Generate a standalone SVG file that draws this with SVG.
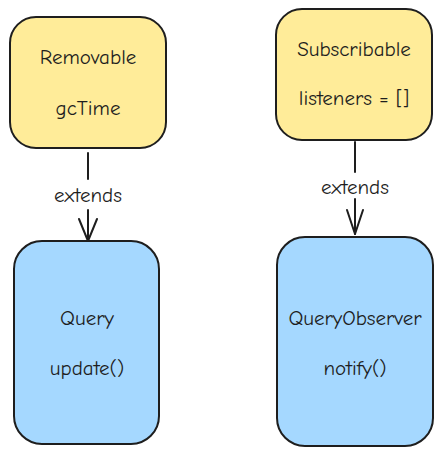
<svg xmlns="http://www.w3.org/2000/svg" width="443" height="456" viewBox="0 0 443 456">
<style>
.box{stroke:#1e1e1e;stroke-width:2;}
.y{fill:#ffec99;}
.b{fill:#a5d8ff;}
text{font-family:"Comic Neue","Liberation Sans",sans-serif;font-size:21px;fill:#1e1e1e;text-anchor:middle;dominant-baseline:central;}
.edge{stroke:#1e1e1e;stroke-width:2;fill:none;stroke-linecap:round;stroke-linejoin:round;}
</style>
<rect width="443" height="456" fill="#ffffff"/>
<g id="removable">
<rect class="box y" x="10" y="17" width="156" height="131" rx="26"/>
<text x="88" y="57">Removable</text>
<text x="88" y="108">gcTime</text>
</g>
<g id="subscribable">
<rect class="box y" x="276" y="9" width="156" height="131" rx="26"/>
<text x="354" y="49">Subscribable</text>
<text x="354" y="98">listeners = []</text>
</g>
<g id="query">
<rect class="box b" x="14" y="241" width="145" height="203" rx="28"/>
<text x="87" y="318">Query</text>
<text x="87" y="368">update()</text>
</g>
<g id="queryobserver">
<rect class="box b" x="277" y="237" width="156" height="209" rx="28"/>
<text x="355" y="318">QueryObserver</text>
<text x="355" y="368">notify()</text>
</g>
<g id="connectors">
<path class="edge" d="M88 153 L88 179"/>
<text x="88" y="195">extends</text>
<path class="edge" d="M88 210 L88 241"/>
<path class="edge" d="M79 219 L88 241 L97 219"/>
<path class="edge" d="M355 142 L355 172"/>
<text x="355" y="187">extends</text>
<path class="edge" d="M355 199 L355 234"/>
<path class="edge" d="M347 210 L355 234 L363 210"/>
</g>
</svg>
